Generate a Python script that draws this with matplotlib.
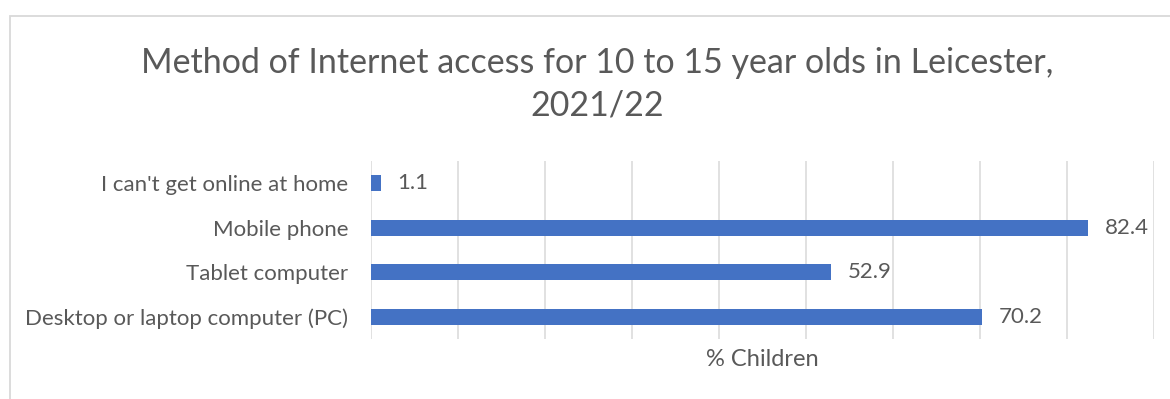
import matplotlib
matplotlib.use("Agg")
import matplotlib.pyplot as plt
from matplotlib.patches import Rectangle

categories = [
    "Desktop or laptop computer (PC)",
    "Tablet computer",
    "Mobile phone",
    "I can't get online at home",
]
values = [70.2, 52.9, 82.4, 1.1]
x_ticks = [0, 10, 20, 30, 40, 50, 60, 70, 80, 90]

title = "Method of Internet access for 10 to 15 year olds in Leicester,\n2021/22"
x_label = "% Children"

BAR = "#4472C4"
TEXT = "#595959"
GRID = "#D9D9D9"

plt.rcParams["font.family"] = ["Lato", "DejaVu Sans"]

W, H = 1170, 399
fig = plt.figure(figsize=(W / 100, H / 100), dpi=100)
fig.patch.set_facecolor("white")

# Chart-area frame (runs past the right and bottom edges)
fig.patches.append(Rectangle((10 / W, -0.2), 1.2, 1.2 - 16 / H,
                             transform=fig.transFigure, fill=False,
                             edgecolor=GRID, linewidth=1.3))

left, right = 371 / W, 1154 / W
top, bottom = 1 - 161 / H, 1 - 339 / H
ax = fig.add_axes([left, bottom, right - left, top - bottom])

y = range(len(categories))
ax.barh(y, values, height=0.36, color=BAR, zorder=3)
ax.set_xlim(0, 90)
ax.set_ylim(-0.5, len(categories) - 0.5)
ax.set_xticks(x_ticks)
ax.set_xticklabels([])
ax.tick_params(axis="x", length=0)
ax.grid(axis="x", color=GRID, linewidth=1.1, zorder=0)
ax.set_yticks(list(y))
ax.set_yticklabels(categories, fontsize=16, color=TEXT)
ax.tick_params(axis="y", length=0, pad=16.5)
for s in ax.spines.values():
    s.set_visible(False)

for yi, v in zip(y, values):
    ax.annotate(f"{v}", (v, yi), xytext=(12, 0), textcoords="offset points",
                va="center", ha="left", fontsize=16, color=TEXT)

fig.text(597 / W, 1 - 84 / H, title, ha="center", va="center",
         fontsize=24.5, color=TEXT, linespacing=1.4)
fig.text((371 + 1154) / 2 / W, 1 - 360 / H, x_label, ha="center", va="center",
         fontsize=17, color=TEXT)

fig.savefig("out.png", dpi=100, facecolor="white")
